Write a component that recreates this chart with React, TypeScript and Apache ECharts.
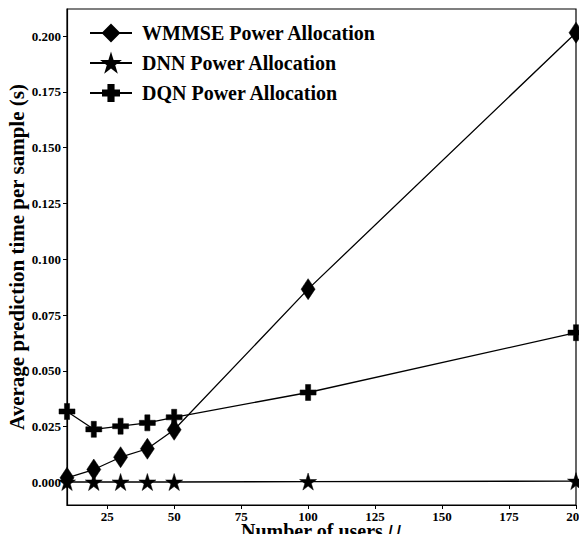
import React, { useEffect, useRef } from "react";
import * as echarts from "echarts";

const users = [10, 20, 30, 40, 50, 100, 200];
const wmmse = [0.0021, 0.0058, 0.0113, 0.0151, 0.0236, 0.0866, 0.2015];
const dnn = [0.0002, 0.0002, 0.0002, 0.0002, 0.0002, 0.0004, 0.0006];
const dqn = [0.0318, 0.0238, 0.0252, 0.0267, 0.0292, 0.0403, 0.0671];
const xTicks = [25, 50, 75, 100, 125, 150, 175, 200];
const yTicks = [0, 0.025, 0.05, 0.075, 0.1, 0.125, 0.15, 0.175, 0.2];

const STAR = "path://M50,0 L61.2,34.5 L97.6,34.5 L68.2,55.9 L79.4,90.5 L50,69.1 L20.6,90.5 L31.8,55.9 L2.4,34.5 L38.8,34.5 Z";
const PLUS = "path://M34,0 H66 V34 H100 V66 H66 V100 H34 V66 H0 V34 H34 Z";

const FONT = "'Liberation Serif', 'Times New Roman', serif";

export default function App() {
  const ref = useRef<HTMLDivElement>(null);
  useEffect(() => {
    if (!ref.current) return;
    const chart = echarts.init(ref.current, undefined, { renderer: "svg" });
    const mk = (name: string, vals: number[], symbol: string, size: any) => ({
      name,
      type: "line",
      data: users.map((u, i) => [u, vals[i]]),
      symbol,
      symbolSize: size,
      lineStyle: { color: "#000", width: 1.3 },
      itemStyle: { color: "#000", borderColor: "#000", borderWidth: 0.5 },
      clip: false,
      z: 3,
    });
    chart.setOption({
      animation: false,
      backgroundColor: "#fff",
      grid: {
        left: 67,
        right: 11,
        top: 9,
        bottom: 37,
        containLabel: false,
        outerBoundsMode: "none",
        show: true,
        borderColor: "#000",
        borderWidth: 1.2,
      },
      legend: {
        orient: "vertical",
        left: 84,
        top: 18,
        itemWidth: 42,
        itemHeight: 20,
        itemGap: 10,
        textStyle: {
          fontFamily: FONT,
          fontWeight: "bold",
          fontSize: 20,
          color: "#000",
          padding: [0, 0, 0, 5],
        },
        data: ["WMMSE Power Allocation", "DNN Power Allocation", "DQN Power Allocation"],
      },
      graphic: [
        {
          type: "text",
          x: 321,
          y: 531,
          style: {
            text: "{a|Number of users }{b|U}",
            textAlign: "center",
            textVerticalAlign: "middle",
            rich: {
              a: { fontFamily: FONT, fontWeight: "bold", fontSize: 20, fill: "#000", lineHeight: 20 },
              b: { fontFamily: "'DejaVu Sans', sans-serif", fontStyle: "italic", fontSize: 18, fill: "#000", lineHeight: 20 },
            },
          },
        },
      ],
      xAxis: {
        type: "value",
        min: 10,
        max: 200,
        splitLine: { show: false },
        axisLine: { show: true, onZero: false, lineStyle: { color: "#000", width: 1.2 } },
        axisTick: { show: true, inside: false, length: 4, customValues: xTicks, lineStyle: { color: "#000" } },
        axisLabel: {
          customValues: xTicks,
          margin: 5,
          fontFamily: FONT,
          fontWeight: "bold",
          fontSize: 13,
          color: "#000",
          formatter: (v: number) => String(v),
        },
      },
      yAxis: {
        type: "value",
        min: -0.0101,
        max: 0.2121,
        splitLine: { show: false },
        axisLine: { show: true, onZero: false, lineStyle: { color: "#000", width: 1.2 } },
        axisTick: { show: true, inside: false, length: 4, customValues: yTicks, lineStyle: { color: "#000" } },
        axisLabel: {
          customValues: yTicks,
          margin: 6,
          fontFamily: FONT,
          fontWeight: "bold",
          fontSize: 13,
          color: "#000",
          formatter: (v: number) => v.toFixed(3),
        },
        name: "Average prediction time per sample (s)",
        nameLocation: "middle",
        nameGap: 40,
        nameMoveOverlap: false,
        nameTextStyle: { fontFamily: FONT, fontWeight: "bold", fontSize: 21, color: "#000" },
      },
      series: [
        mk("WMMSE Power Allocation", wmmse, "diamond", [14, 21]),
        mk("DNN Power Allocation", dnn, STAR, 17),
        mk("DQN Power Allocation", dqn, PLUS, 16),
      ],
    });
    return () => chart.dispose();
  }, []);
  return <div ref={ref} style={{ width: 587, height: 542, margin: -8 }} />;
}
